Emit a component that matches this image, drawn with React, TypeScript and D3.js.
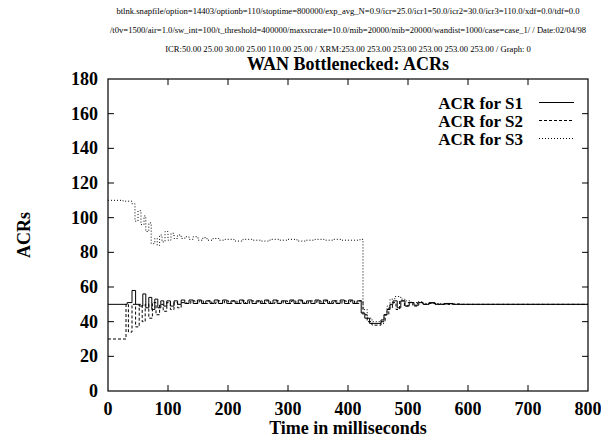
import React from "react";
import * as d3 from "d3";

const headerLines = [
  "btlnk.snapfile/option=14403/optionb=110/stoptime=800000/exp_avg_N=0.9/icr=25.0/icr1=50.0/icr2=30.0/icr3=110.0/xdf=0.0/tdf=0.0",
  "/t0v=1500/air=1.0/sw_int=100/t_threshold=400000/maxsrcrate=10.0/mib=20000/mib=20000/wandist=1000/case=case_1/ / Date:02/04/98",
  "ICR:50.00 25.00 30.00 25.00 110.00 25.00 / XRM:253.00 253.00 253.00 253.00 253.00 253.00 / Graph: 0",
];
const title = "WAN Bottlenecked: ACRs";
const xLabel = "Time in milliseconds";
const yLabel = "ACRs";
const xTicks = [0, 100, 200, 300, 400, 500, 600, 700, 800];
const yTicks = [0, 20, 40, 60, 80, 100, 120, 140, 160, 180];
const seriesNames = ["ACR for S1", "ACR for S2", "ACR for S3"];

const s1Times = [0, 32, 40, 46, 52, 58, 63, 68, 73, 78, 83, 88, 93, 98, 104, 110, 116, 122,
  128, 135, 142, 149, 156, 163, 170, 177, 184, 191, 198, 205, 212, 219, 226, 233, 240, 247, 254, 261, 268, 275,
  282, 289, 296, 303, 310, 317, 324, 331, 338, 345, 352, 359, 366, 373, 380, 387, 394, 401, 408, 415,
  422, 428, 436, 455, 460, 465, 470, 475, 482, 488, 495, 502, 510, 518, 525, 535, 545, 560, 575, 800];
const s1Values = [50, 51, 58, 50, 49, 56, 48, 54, 47, 53, 48, 52, 49, 52, 49, 52, 50, 52.5,
  50.5, 52.5, 50.5, 52.5, 50.5, 52, 50.5, 52.5, 50.5, 52.5, 50.5, 52, 50.5, 52.5, 50.5, 52.5, 50.5, 52, 50.5, 52.5, 50.5, 52.5,
  50.5, 52, 50.5, 52.5, 50.5, 52.5, 50.5, 52, 50.5, 52.5, 50.5, 52.5, 50.5, 52, 50.5, 52.5, 50.5, 52.5, 50.5, 52,
  45, 42, 39, 41, 44, 47, 50, 52, 48, 52, 49, 51, 49.5, 51, 50, 51, 50, 50.5, 50, 50];

const s2Times = [0, 30, 34, 40, 46, 52, 57, 62, 68, 74, 80, 86, 92, 98, 104, 110, 116, 122,
  131, 138, 145, 152, 159, 166, 173, 180, 187, 194, 201, 208, 215, 222, 229, 236, 243, 250, 257, 264, 271, 278,
  285, 292, 299, 306, 313, 320, 327, 334, 341, 348, 355, 362, 369, 376, 383, 390, 397, 404, 411, 418,
  425, 432, 440, 455, 462, 468, 474, 480, 486, 494, 500, 508, 516, 525, 535, 550, 570, 590, 800];
const s2Values = [30, 50, 34, 50, 37, 50, 40, 50, 42, 51, 44, 50, 46, 51, 47, 51, 48, 51,
  50.5, 52, 50.5, 52, 50.5, 52, 50.5, 52, 50.5, 52, 50.5, 52, 50.5, 52, 50.5, 52, 50.5, 52, 50.5, 52, 50.5, 52,
  50.5, 52, 50.5, 52, 50.5, 52, 50.5, 52, 50.5, 52, 50.5, 52, 50.5, 52, 50.5, 52, 50.5, 52, 50.5, 52,
  44, 40, 38, 40, 44, 48, 51, 47, 52, 49, 51, 49, 51, 50, 50.5, 50, 50.2, 50, 50];

const s3Times = [0, 25, 40, 45, 50, 55, 60, 63, 68, 72, 78, 82, 86, 90, 95, 100, 105, 110, 116, 122, 128,
  135, 142, 150, 158, 165, 175, 185, 195, 210, 225, 240, 255, 270, 285, 300, 315, 330, 345, 360, 375, 390, 405, 420,
  425, 432, 440, 455, 460, 465, 470, 478, 488, 495, 505, 515, 525, 540, 555, 800];
const s3Values = [110, 109.5, 108, 98, 104, 96, 101, 92, 97, 85, 88, 84, 90, 86, 92, 87, 91, 88, 90, 88, 89,
  87.5, 89, 87, 88.5, 87, 88, 87, 87.5, 86.5, 87.5, 87, 86.5, 87.5, 87, 87.5, 86.5, 87, 87.5, 87, 87.5, 87, 87, 87.5,
  47, 42, 40, 39, 44, 49, 53, 54.5, 53, 52, 51, 51.5, 50.5, 50.5, 50, 50];

const W = 601;
const H = 443;
const M = { left: 108, right: 588, top: 79, bottom: 391 };

export default function App() {
  const x = d3.scaleLinear().domain([0, 800]).range([M.left, M.right]);
  const y = d3.scaleLinear().domain([0, 180]).range([M.bottom, M.top]);
  const line = d3
    .line<[number, number]>()
    .x((d) => x(d[0]))
    .y((d) => y(d[1]))
    .curve(d3.curveStepAfter);

  const series = [
    { name: seriesNames[0], t: s1Times, v: s1Values, dash: undefined as string | undefined },
    { name: seriesNames[1], t: s2Times, v: s2Values, dash: "3,2" },
    { name: seriesNames[2], t: s3Times, v: s3Values, dash: "1,2" },
  ];

  const font = "'Liberation Serif', 'Times New Roman', serif";
  const tickLen = 6;
  const cx = (M.left + M.right) / 2;
  const fs = 18;
  const legFs = 17;
  const legStep = 18;

  return (
    <svg
      width={W}
      height={H}
      style={{ position: "absolute", left: 0, top: 0, background: "#fff" }}
      fontFamily={font}
    >
      {headerLines.map((s, i) => (
        <text key={i} x={cx} y={14 + i * 19} textAnchor="middle" fontSize={8.6}>
          {s}
        </text>
      ))}
      <text x={cx} y={70} textAnchor="middle" fontSize={fs} fontWeight="bold">
        {title}
      </text>

      <defs>
        <clipPath id="plotclip">
          <rect x={M.left} y={M.top} width={M.right - M.left} height={M.bottom - M.top} />
        </clipPath>
      </defs>

      <g clipPath="url(#plotclip)">
        {series.map((s, i) => (
          <path
            key={i}
            d={line(s.t.map((t, j) => [t, s.v[j]] as [number, number])) || ""}
            fill="none"
            stroke="#000"
            strokeWidth={1}
            strokeDasharray={s.dash}
          />
        ))}
      </g>

      <rect
        x={M.left}
        y={M.top}
        width={M.right - M.left}
        height={M.bottom - M.top}
        fill="none"
        stroke="#000"
        strokeWidth={1.2}
      />

      {yTicks.map((t) => (
        <g key={"y" + t}>
          {t > 0 && t < 180 && (
            <>
              <line x1={M.left} x2={M.left + tickLen} y1={y(t)} y2={y(t)} stroke="#000" />
              <line x1={M.right} x2={M.right - tickLen} y1={y(t)} y2={y(t)} stroke="#000" />
            </>
          )}
          <text x={98} y={y(t) + 6} textAnchor="end" fontSize={fs} fontWeight="bold">
            {t}
          </text>
        </g>
      ))}
      {xTicks.map((t) => (
        <g key={"x" + t}>
          {t > 0 && t < 800 && (
            <>
              <line x1={x(t)} x2={x(t)} y1={M.bottom} y2={M.bottom - tickLen} stroke="#000" />
              <line x1={x(t)} x2={x(t)} y1={M.top} y2={M.top + tickLen} stroke="#000" />
            </>
          )}
          <text x={x(t)} y={415} textAnchor="middle" fontSize={fs} fontWeight="bold">
            {t}
          </text>
        </g>
      ))}

      <text x={cx} y={434} textAnchor="middle" fontSize={fs} fontWeight="bold">
        {xLabel}
      </text>
      <text
        transform={`translate(30,235) rotate(-90)`}
        textAnchor="middle"
        fontSize={fs}
        fontWeight="bold"
      >
        {yLabel}
      </text>

      {series.map((s, i) => (
        <g key={"lg" + i}>
          <text
            x={523}
            y={103 + i * legStep}
            dy="0.33em"
            textAnchor="end"
            fontSize={legFs}
            fontWeight="bold"
          >
            {s.name}
          </text>
          <line
            x1={539}
            x2={574}
            y1={102.5 + i * legStep}
            y2={102.5 + i * legStep}
            stroke="#000"
            strokeWidth={1}
            strokeDasharray={s.dash}
          />
        </g>
      ))}
    </svg>
  );
}
